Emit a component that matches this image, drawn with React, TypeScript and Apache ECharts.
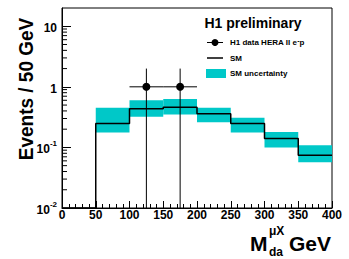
import React, { useEffect, useRef } from "react";
import * as echarts from "echarts";

// ---- data ----
const binLow = [0, 50, 100, 150, 200, 250, 300, 350];
const binHigh = [50, 100, 150, 200, 250, 300, 350, 400];
const smValues = [0, 0.247, 0.435, 0.46, 0.36, 0.247, 0.14, 0.074];
const smUncLow = [0, 0.176, 0.32, 0.35, 0.26, 0.176, 0.1, 0.057];
const smUncHigh = [0, 0.45, 0.6, 0.63, 0.45, 0.31, 0.18, 0.109];
const dataX = [125, 175];
const dataXErr = [25, 25];
const dataY = [1, 1];
const dataYLow = [0, 0];
const dataYHigh = [2, 2];
const xTicks = [0, 50, 100, 150, 200, 250, 300, 350, 400];
const yDecades = [0.01, 0.1, 1, 10];

const Y_MIN = 0.01;
const Y_MAX = 20;
const CYAN = "#00c8c8";
const FONT = "Liberation Sans, Arial, Helvetica, sans-serif";

const minorYTicks: number[] = [];
yDecades.forEach((d) => {
  for (let k = 2; k <= 9; k++) {
    const v = d * k;
    if (v < Y_MAX) minorYTicks.push(v);
  }
});

export default function App() {
  const ref = useRef<HTMLDivElement>(null);
  useEffect(() => {
    if (!ref.current) return;
    const chart = echarts.init(ref.current, null, { renderer: "svg" });

    const stepData: number[][] = binLow.map((lo, i) => [lo, Math.max(smValues[i], Y_MIN)]);
    stepData.push([binHigh[binHigh.length - 1], smValues[smValues.length - 1]]);

    const bandData = binLow
      .map((lo, i) => [lo, binHigh[i], smUncLow[i], smUncHigh[i]])
      .filter((d) => d[3] > 0);

    const pointData = dataX.map((x, i) => [
      x,
      dataY[i],
      x - dataXErr[i],
      x + dataXErr[i],
      Math.max(dataYLow[i], Y_MIN),
      dataYHigh[i],
    ]);

    chart.setOption({
      animation: false,
      grid: {
        left: 62,
        right: 17,
        top: 8,
        bottom: 51,
        show: true,
        borderColor: "#000",
        borderWidth: 1,
      },
      xAxis: {
        type: "value",
        min: 0,
        max: 400,
        interval: 50,
        axisLine: { show: true, onZero: false, lineStyle: { color: "#000", width: 1 } },
        axisTick: { show: true, inside: true, length: 7, lineStyle: { color: "#000" } },
        minorTick: { show: true, splitNumber: 5, length: 4, lineStyle: { color: "#000" } },
        splitLine: { show: false },
        axisLabel: {
          margin: 1,
          color: "#000",
          fontSize: 12,
          fontWeight: "bold",
          fontFamily: FONT,
          formatter: (v: number) => (xTicks.includes(v) ? String(v) : ""),
        },
      },
      yAxis: {
        type: "log",
        logBase: 10,
        min: Y_MIN,
        max: Y_MAX,
        axisLine: { show: true, lineStyle: { color: "#000", width: 1 } },
        axisTick: { show: true, inside: true, length: 9, lineStyle: { color: "#000" } },
        splitLine: { show: false },
        axisLabel: {
          margin: 5,
          color: "#000",
          showMaxLabel: false,
          formatter: (v: number) => {
            const e = Math.log10(v);
            const r = Math.round(e);
            if (Math.abs(e - r) > 1e-6) return "";
            if (r === 0) return "{b|1}";
            if (r === 1) return "{b|10}";
            return "{b|10}{s|" + r + "}";
          },
          rich: {
            b: { fontSize: 12, fontWeight: "bold", fontFamily: FONT, color: "#000", padding: [4, 0, 0, 0] },
            s: { fontSize: 8, fontWeight: "bold", fontFamily: FONT, color: "#000", verticalAlign: "top", padding: [0, 0, 0, 0] },
          },
        },
      },
      series: [
        {
          type: "custom",
          name: "SM uncertainty",
          clip: true,
          silent: true,
          data: bandData,
          encode: { x: [0, 1], y: [2, 3] },
          renderItem: (params: any, api: any) => {
            const p0 = api.coord([api.value(0), api.value(3)]);
            const p1 = api.coord([api.value(1), api.value(2)]);
            return {
              type: "rect",
              shape: { x: p0[0], y: p0[1], width: p1[0] - p0[0], height: p1[1] - p0[1] },
              style: { fill: CYAN },
            };
          },
          z: 1,
        },
        {
          type: "line",
          name: "SM",
          step: "end",
          data: stepData,
          showSymbol: false,
          lineStyle: { color: "#000", width: 1.5 },
          z: 2,
        },
        {
          type: "custom",
          name: "minor y ticks",
          silent: true,
          data: minorYTicks.map((v) => [0, v]),
          renderItem: (params: any, api: any) => {
            const p = api.coord([0, api.value(1)]);
            return {
              type: "line",
              shape: { x1: p[0], y1: p[1], x2: p[0] + 5, y2: p[1] },
              style: { stroke: "#000", lineWidth: 1 },
            };
          },
          z: 3,
        },
        {
          type: "custom",
          name: "H1 data",
          clip: true,
          silent: true,
          data: pointData,
          encode: { x: [0, 2, 3], y: [1, 4, 5] },
          renderItem: (params: any, api: any) => {
            const c = api.coord([api.value(0), api.value(1)]);
            const l = api.coord([api.value(2), api.value(1)]);
            const r = api.coord([api.value(3), api.value(1)]);
            const lo = api.coord([api.value(0), api.value(4)]);
            const hi = api.coord([api.value(0), api.value(5)]);
            const st = { stroke: "#000", lineWidth: 1 };
            return {
              type: "group",
              children: [
                { type: "line", shape: { x1: l[0], y1: l[1], x2: r[0], y2: r[1] }, style: st },
                { type: "line", shape: { x1: lo[0], y1: lo[1], x2: hi[0], y2: hi[1] }, style: st },
                { type: "circle", shape: { cx: c[0], cy: c[1], r: 4 }, style: { fill: "#000" } },
              ],
            };
          },
          z: 4,
        },
      ],
      graphic: [
        {
          type: "text",
          x: 26,
          y: 89,
          rotation: Math.PI / 2,
          scaleY: 1.1,
          style: {
            text: "Events / 50 GeV",
            fontSize: 19,
            fontWeight: "bold",
            fontFamily: FONT,
            fill: "#000",
            align: "center",
            verticalAlign: "middle",
          },
        },
        {
          type: "text",
          x: 253,
          y: 23,
          style: {
            text: "H1 preliminary",
            fontSize: 14,
            fontWeight: "bold",
            fontFamily: FONT,
            fill: "#000",
            align: "center",
            verticalAlign: "middle",
          },
        },
        { type: "line", shape: { x1: 207, y1: 42.5, x2: 223, y2: 42.5 }, style: { stroke: "#000", lineWidth: 1 } },
        { type: "circle", shape: { cx: 215, cy: 42.5, r: 3.5 }, style: { fill: "#000" } },
        {
          type: "text",
          x: 230,
          y: 42.5,
          style: {
            text: "{n|H1 data HERA II e}{s|-}{n|p}",
            fill: "#000",
            verticalAlign: "middle",
            rich: {
              n: { fontSize: 8, fontWeight: "bold", fontFamily: FONT, fill: "#000", lineHeight: 12, verticalAlign: "middle" },
              s: { fontSize: 7, fontWeight: "bold", fontFamily: FONT, fill: "#000", lineHeight: 7, verticalAlign: "top" },
            },
          },
        },
        { type: "line", shape: { x1: 207, y1: 58, x2: 223, y2: 58 }, style: { stroke: "#000", lineWidth: 1.5 } },
        {
          type: "text",
          x: 230,
          y: 58,
          style: { text: "SM", fontSize: 8, fontWeight: "bold", fontFamily: FONT, fill: "#000", verticalAlign: "middle" },
        },
        { type: "rect", shape: { x: 206, y: 69, width: 20, height: 9 }, style: { fill: CYAN } },
        {
          type: "text",
          x: 230,
          y: 73.5,
          style: {
            text: "SM uncertainty",
            fontSize: 8,
            fontWeight: "bold",
            fontFamily: FONT,
            fill: "#000",
            verticalAlign: "middle",
          },
        },
        {
          type: "text",
          x: 250,
          y: 243,
          style: { text: "M", fontSize: 21, fontWeight: "bold", fontFamily: FONT, fill: "#000", verticalAlign: "middle" },
        },
        {
          type: "text",
          x: 269,
          y: 231,
          style: { text: "μX", fontSize: 12, fontWeight: "bold", fontFamily: FONT, fill: "#000", verticalAlign: "middle" },
        },
        {
          type: "text",
          x: 269,
          y: 252,
          style: { text: "da", fontSize: 12, fontWeight: "bold", fontFamily: FONT, fill: "#000", verticalAlign: "middle" },
        },
        {
          type: "text",
          x: 289,
          y: 243,
          style: { text: "GeV", fontSize: 21, fontWeight: "bold", fontFamily: FONT, fill: "#000", verticalAlign: "middle" },
        },
      ],
    });
    return () => chart.dispose();
  }, []);
  return <div ref={ref} style={{ width: 349, height: 259, position: "absolute", left: 0, top: 0 }} />;
}
